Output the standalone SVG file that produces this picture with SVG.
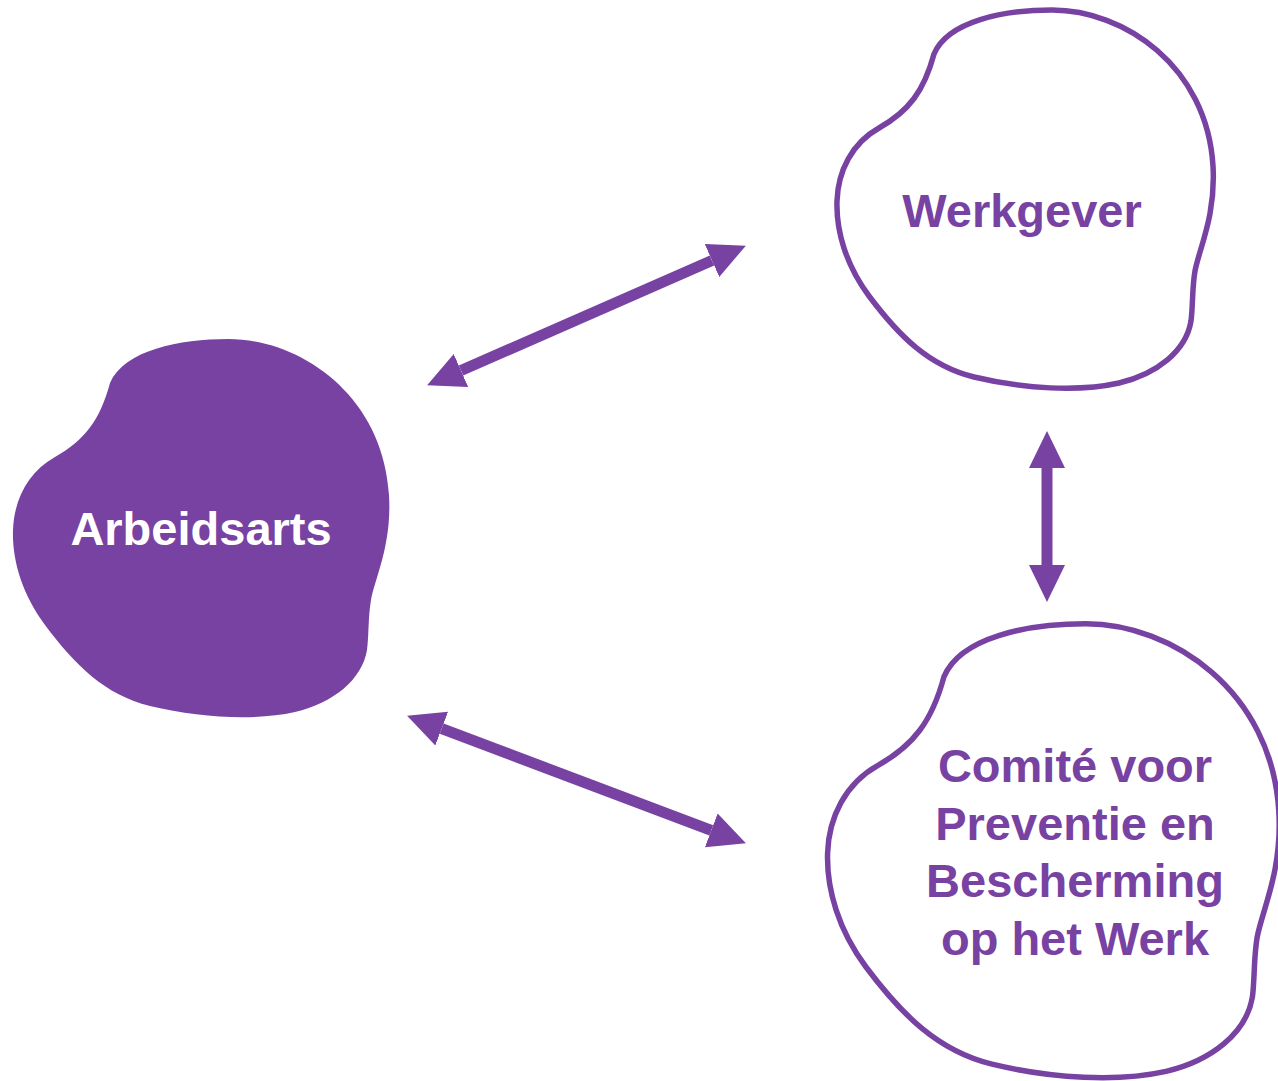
<svg xmlns="http://www.w3.org/2000/svg" width="1278" height="1081" viewBox="0 0 1278 1081">
  <style>
    .blob-fill { fill: #7842A3; stroke: none; }
    .blob-line { fill: #FFFFFF; stroke: #7842A3; stroke-width: 5.5; }
    .label { font-family: "Liberation Sans", Arial, sans-serif; font-weight: bold; font-size: 47px; text-anchor: middle; }
    .label-white { fill: #FFFFFF; }
    .label-purple { fill: #7842A3; }
    .conn { stroke: #7842A3; stroke-width: 11; fill: none; marker-start: url(#head); marker-end: url(#head); }
  </style>
  <defs>
    <path id="blob" d="M 110,383 C 124,350 180,339 228,339 C 300,339 383,395 389,495 C 392,545 375,578 371,600 C 368,617 369,635 367,650 C 362,680 333,703 295,712 C 255,721 200,718 150,706 C 105,695 75,665 45,625 C 22,594 12,560 13,530 C 14,500 28,472 55,457 C 85,440 100,420 110,383 Z"/>
    <marker id="head" markerUnits="userSpaceOnUse" markerWidth="38" markerHeight="38" refX="0" refY="18" orient="auto-start-reverse" viewBox="0 0 38 36">
      <path d="M0,0 L37,18 L0,36 Z" fill="#7842A3"/>
    </marker>
  </defs>

  <g id="node-arbeidsarts">
    <use href="#blob" class="blob-fill"/>
    <text class="label label-white" x="201" y="545">Arbeidsarts</text>
  </g>

  <g id="node-werkgever">
    <use href="#blob" class="blob-line" transform="translate(824,-329)"/>
    <text class="label label-purple" x="1022" y="227">Werkgever</text>
  </g>

  <g id="node-comite">
    <path class="blob-line" vector-effect="non-scaling-stroke" transform="translate(812,217) scale(1.2)" d="M 110,383 C 124,350 180,339 228,339 C 300,339 383,395 389,495 C 392,545 375,578 371,600 C 368,617 369,635 367,650 C 362,680 333,703 295,712 C 255,721 200,718 150,706 C 105,695 75,665 45,625 C 22,594 12,560 13,530 C 14,500 28,472 55,457 C 85,440 100,420 110,383 Z"/>
    <text class="label label-purple" x="1075" y="782">Comité voor</text>
    <text class="label label-purple" x="1075" y="840">Preventie en</text>
    <text class="label label-purple" x="1075" y="897">Bescherming</text>
    <text class="label label-purple" x="1075" y="955">op het Werk</text>
  </g>

  <g id="connectors">
    <line class="conn" x1="461" y1="370.5" x2="712" y2="260.5"/>
    <line class="conn" x1="441.7" y1="728.7" x2="711.3" y2="830.3"/>
    <line class="conn" x1="1047" y1="468" x2="1047" y2="565"/>
  </g>
</svg>
